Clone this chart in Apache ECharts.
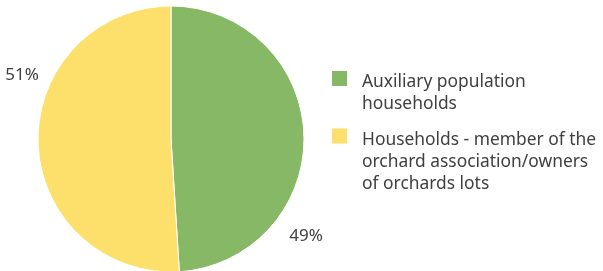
<!DOCTYPE html>
<html>
<head>
<meta charset="utf-8">
<script src="https://cdn.jsdelivr.net/npm/echarts@6/dist/echarts.min.js"></script>
<style>
  html, body { margin: 0; padding: 0; background: #fff; }
  #main { width: 603px; height: 271px; }
</style>
</head>
<body>
<div id="main"></div>
<script>
const categories = [
  'Auxiliary population\nhouseholds',
  'Households - member of the\norchard association/owners\nof orchards lots'
];
const shares = [49, 51];
const colors = ['#86B866', '#FCE06B'];

const myChart = echarts.init(document.getElementById('main'));

const textColor = '#404040';
const font = 'Noto Sans';
const lineH = 22;
const drop = 4; // first text line sits a little below the square's centre

// the legend centres the whole text block on the square, so put one blank
// line on top that pushes line one down level with the square
function legendText(name) {
  const lines = name.split('\n');
  const tag = lines.length === 2 ? 'b2' : 'b3';
  return ['{' + tag + '| }'].concat(lines.map((l) => '{t|' + l + '}')).join('\n');
}

function makeLegend(name, top) {
  return {
    data: [name],
    orient: 'vertical',
    left: 332,
    top: top,
    padding: 0,
    icon: 'rect',
    itemWidth: 15,
    itemHeight: 15,
    itemStyle: { borderWidth: 0 },
    formatter: legendText,
    textStyle: {
      color: textColor,
      fontFamily: font,
      fontSize: 17.4,
      lineHeight: lineH,
      rich: {
        t: {
          color: textColor,
          fontFamily: font,
          fontSize: 17.4,
          lineHeight: lineH,
          padding: [0, 0, 0, 10],
        },
        b2: { fontSize: 4, lineHeight: lineH + 2 * drop },
        b3: { fontSize: 4, lineHeight: 2 * lineH + 2 * drop },
      },
    },
  };
}

const option = {
  animation: false,
  color: colors,
  legend: [makeLegend(categories[0], 41.5), makeLegend(categories[1], 77)],
  series: [
    {
      type: 'pie',
      center: [171, 139],
      radius: 133,
      startAngle: 90,
      clockwise: true,
      avoidLabelOverlap: false,
      itemStyle: {
        borderColor: '#fff',
        borderWidth: 1,
      },
      label: {
        show: true,
        position: 'outside',
        formatter: '{c}%',
        color: textColor,
        fontFamily: font,
        fontSize: 17,
        overflow: 'none',
      },
      labelLine: { show: false, length: 4, length2: 0 },
      labelLayout: (params) => {
        if (params.dataIndex === 0) {
          return { x: 306, y: 236, align: 'center', verticalAlign: 'middle' };
        }
        return { x: 22, y: 75, align: 'center', verticalAlign: 'middle' };
      },
      emphasis: { scale: false },
      data: categories.map((name, i) => ({ name: name, value: shares[i] })),
    },
  ],
};

myChart.setOption(option);
</script>
</body>
</html>
